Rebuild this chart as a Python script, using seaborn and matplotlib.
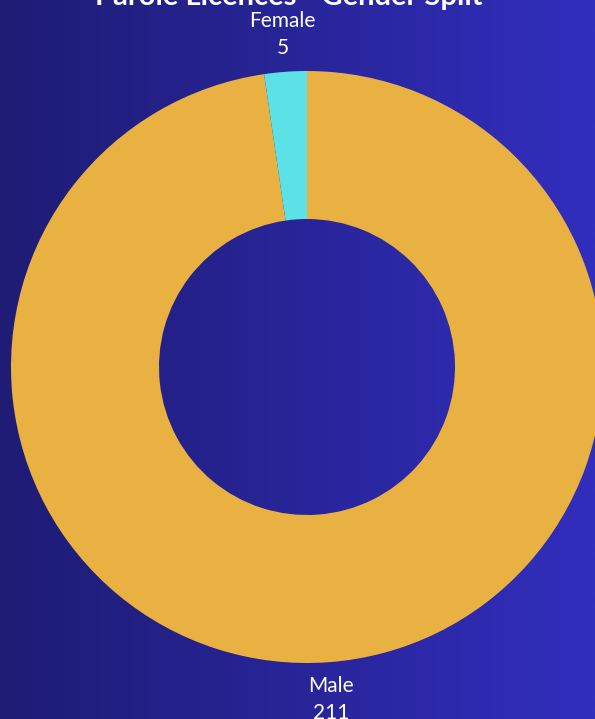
import numpy as np
import matplotlib
matplotlib.use("Agg")
import matplotlib.pyplot as plt
import seaborn as sns
from matplotlib.colors import LinearSegmentedColormap

sns.set_theme(style="white")
plt.rcParams["font.family"] = ["Lato", "DejaVu Sans"]

# Data
categories = ["Male", "Female"]
counts = [211, 5]
slice_colors = ["#E8B142", "#5CE1E6"]
title = "Parole Licences - Gender Split"

W, H, DPI = 595, 719, 100
fig = plt.figure(figsize=(W / DPI, H / DPI), dpi=DPI)

# Horizontal gradient background
bg = fig.add_axes([0, 0, 1, 1], zorder=0)
grad = np.linspace(0, 1, 256).reshape(1, -1)
cmap = LinearSegmentedColormap.from_list("bg", ["#1E1C74", "#322EBE"])
bg.imshow(grad, aspect="auto", cmap=cmap, extent=[0, 1, 0, 1])
bg.set_axis_off()

# Donut chart
ax = fig.add_axes([0, 0, 1, 1], zorder=1)
ax.patch.set_alpha(0)
radius_px = 296
cx, cy = 307, 367
wedges, texts = ax.pie(
    counts,
    colors=slice_colors,
    startangle=90,
    counterclock=False,
    radius=1.0,
    wedgeprops=dict(width=0.5, edgecolor="none"),
    labels=[f"{c}\n{v}" for c, v in zip(categories, counts)],
    labeldistance=1.125,
    textprops=dict(color="white", fontsize=15, linespacing=1.45),
)
for t in texts:
    t.set_horizontalalignment("center")
    t.set_verticalalignment("center")

ax.set_xlim(-cx / radius_px, (W - cx) / radius_px)
ax.set_ylim(-(H - cy) / radius_px, cy / radius_px)
ax.set_aspect("equal")
ax.set_axis_off()

fig.text(0.485, 1 - 5 / H, title, ha="center", va="baseline",
         color="white", fontsize=21, fontweight="bold")

fig.savefig("out.png", dpi=DPI)
